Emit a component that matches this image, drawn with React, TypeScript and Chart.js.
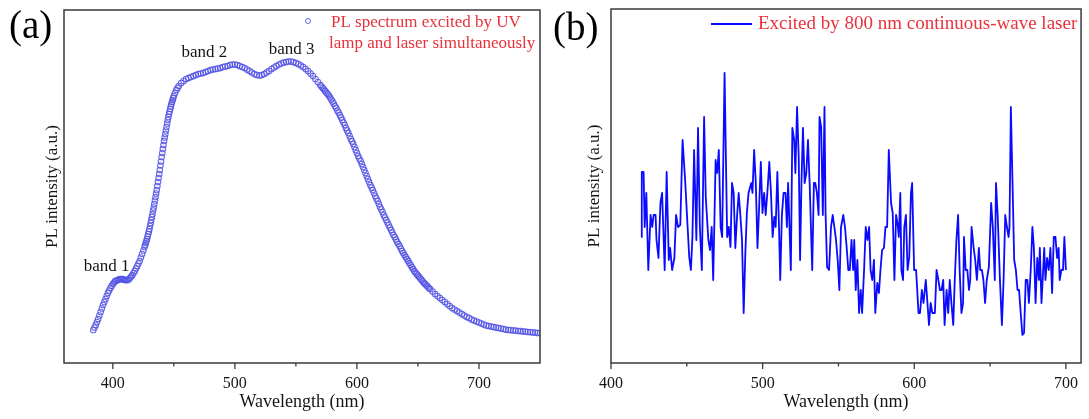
import React, { useEffect, useRef } from "react";
import { Chart, registerables } from "chart.js";

Chart.register(...registerables);

// ---------- Panel (a): PL spectrum, UV lamp + laser ----------
const wavelengthA = [
  384, 385, 386, 387, 388, 389, 390, 391, 392, 393, 394, 395, 396, 397, 398, 399, 400, 401, 402, 403, 404, 405,
  406, 407, 408, 409, 410, 411, 412, 413, 414, 415, 416, 417, 418, 419, 420, 421, 422, 423, 424, 425, 426,
  426.5, 427, 427.5, 428, 428.5, 429, 429.5, 430, 430.5, 431, 431.5, 432, 432.5, 433, 433.5, 434, 434.5, 435,
  435.5, 436, 436.5, 437, 437.5, 438, 438.5, 439, 439.5, 440, 440.5, 441, 441.5, 442, 442.5, 443, 443.5, 444,
  444.5, 445, 445.5, 446, 446.5, 447, 447.5, 448, 448.5, 449, 449.5, 450, 451, 452, 453, 454,
  456, 458, 460, 462, 464, 466, 468, 470, 472, 474, 476, 478, 480, 482, 484, 486, 488, 490, 492, 494, 496, 498,
  500, 502, 504, 506, 508, 510, 512, 514, 516, 518, 520, 522, 524, 526, 528, 530, 532, 534, 536, 538, 540, 542,
  544, 546, 548, 550, 552, 554, 556, 558, 560, 562, 564, 566, 568,
  570, 571, 572, 573, 574, 575, 576, 577, 578, 579, 580, 581, 582, 583, 584, 585, 586, 587, 588, 589, 590, 591,
  592, 593, 594, 595, 596, 597, 598, 599, 600, 601, 602, 603, 604, 605, 606, 607, 608, 609, 610, 611, 612, 613,
  614, 615, 616, 617, 618, 619, 620, 621, 622, 623, 624, 625, 626, 627, 628, 629, 630, 631, 632, 633, 634, 635,
  636, 637, 638, 639, 640, 641, 642, 643, 644, 645, 646, 647, 648, 649, 650, 651, 652, 653, 654, 655, 656, 657,
  658, 659, 660,
  662, 664, 666, 668, 670, 672, 674, 676, 678, 680, 682, 684, 686, 688, 690, 692, 694, 696, 698, 700, 702, 704,
  706, 708, 710, 712, 714, 716, 718, 720, 722, 724, 726, 728, 730, 732, 734, 736, 738, 740, 742, 744, 746, 748, 750,
];
const intensityA = [
  33, 35.5, 38, 41, 44, 47.5, 51, 54.5, 58, 61, 64, 67, 70, 72.5, 75, 77, 79, 80.5, 82, 82.5, 83, 83.5,
  84, 84, 84, 83.5, 83, 83, 83, 83.5, 85, 86.5, 88, 90, 92, 94.5, 97, 99.5, 102, 105.5, 109, 112.5, 116,
  118, 120, 122, 124, 126.5, 129, 131.5, 134, 137, 140, 143, 146, 149, 152.5, 155.5, 159, 162.5, 166,
  169.5, 173, 177, 181, 185, 189, 193, 197.5, 201.5, 206, 210, 214, 218, 222, 225.5, 229, 232.5, 236,
  239.5, 243, 246, 249, 251.5, 254, 256.5, 259, 261, 263, 265, 267, 270, 273, 275, 277,
  280, 282, 284, 285, 286, 287, 288, 289, 289.5, 290, 291, 292, 293, 293.5, 294, 294.5, 295, 296, 296.5, 297, 298, 298.5,
  298.5, 298, 297, 296, 295, 293.5, 292, 290.5, 289, 288, 287.5, 288, 289, 290.5, 292, 294, 295.5, 297, 298.5, 299.5, 300.5, 301,
  301.5, 301.5, 301, 300, 299, 297.5, 296, 294, 292, 289.5, 287, 284, 281,
  278, 276.5, 275, 273.5, 272, 270.5, 269, 267.5, 265.5, 263.5, 261.5, 259.5, 257, 255, 252.5, 250.5, 248, 245.5, 243, 240.5, 238, 235,
  232.5, 230, 227, 224, 221.5, 219, 216, 213, 210, 207, 204.5, 202, 199, 196, 193, 190, 187, 184, 181, 178, 175.5, 173,
  170, 167, 164.5, 162, 159, 156, 153.5, 151, 148, 145.5, 143, 140.5, 138, 135.5, 133, 130.5, 128, 126, 123.5, 121, 119, 117,
  114.5, 112, 110, 108, 106, 104, 102, 100, 98, 96, 94, 92, 90.5, 89, 87.5, 86, 84.5, 83, 81.5, 80, 79, 77.5,
  76.5, 75, 74,
  71.5, 69, 67, 65, 63, 61, 59, 57, 55, 53.5, 52, 50.5, 49, 47.5, 46, 45, 43.5, 42.5, 41.5, 40.5, 39.5, 38.5,
  37.5, 37, 36.5, 36, 35.5, 35, 34.5, 34, 33.5, 33, 33, 32.5, 32.5, 32, 32, 31.5, 31.5, 31, 31, 30.5, 30.5, 30, 30,
];
const majorTicksA = [400, 500, 600, 700];
const minorTicksA = [450, 550, 650];
const legendLinesA = ["PL spectrum excited by UV", "lamp and laser simultaneously"];
const bandLabels = ["band 1", "band 2", "band 3"];
const bandAnchorX = [395, 475, 546.5];
const bandAnchorY = [96, 310, 313];

// ---------- Panel (b): 800 nm CW laser ----------
const wavelengthB = [
  420, 420.3, 421.5, 422.2, 423.3, 424.6, 425.5, 426.1, 427.2, 428.1, 429.4, 430, 431.3, 432.6, 433.7, 435.4,
  436.7, 438.1, 439, 440.3, 441.8, 442.9, 444.2, 445.7, 447.2, 449, 450.1, 451.6, 452.7, 453.7, 454.8, 456.3,
  457.4, 458.6, 459.9, 461.4, 462.5, 464.2, 465.3, 466.4, 467.4, 469, 470, 471.1, 472.3, 473.3, 474.9, 476.6,
  477.7, 478.8, 479.8, 480.9, 482, 483.1, 484.2, 485.3, 486.4, 487.5, 488.6, 489.6, 490.7, 492.5, 493.3, 494.4,
  495.5, 496.6, 497.7, 498.8, 499.9, 501, 502, 503.1, 504.4, 505.5, 506.6, 507.7, 508.6, 509.7, 510.8, 511.6,
  512.7, 513.8, 515.1, 516, 516.8, 518.6, 519.6, 520.8, 521.6, 522.7, 523.8, 524.7, 525.6, 526.6, 527.7, 528.8,
  529.9, 531, 532.1, 532.7, 533.8, 534.7, 535.8, 536.9, 537.5, 538.6, 539.7, 540.8, 541.5, 542.5, 543.8, 545.1,
  546.2, 547.3, 548.4, 549.5, 550.6, 551.7, 553.2, 554.3, 555.4, 556.5, 557.5, 558.6, 559.7, 560.4, 561.4, 562.5,
  563.6, 564.7, 565.6, 566.9, 568, 569.1, 570.2, 571.2, 572.3, 573.4, 574.3, 575.6, 576.7, 577.7, 578.8, 580,
  581, 582.1, 583.2, 584.7, 585.8, 586.9, 588, 589.1, 589.8, 590.8, 591.5, 592.6, 593.4, 594.5, 595.6, 596.7,
  597.8, 598.6, 599.9, 601.2, 602.8, 603.8, 605, 606.1, 607.6, 608.7, 609.7, 610.8, 611.9, 613.6, 614.7, 615.9,
  616.9, 618, 619.1, 620, 621.3, 622.4, 623.4, 624.5, 625.7, 626.7, 627.8, 628.9, 630, 631.1, 632.2, 632.8,
  633.9, 635, 636.1, 636.9, 637.8, 639.1, 640.2, 641.3, 642.6, 643.5, 644.6, 645.6, 646.7, 647.8, 649.2, 650.7,
  651.8, 653.1, 653.9, 655, 656.5, 657.8, 658.9, 660, 661.1, 662.2, 662.8, 663.7, 664.8, 665.9, 667, 668.1,
  669.1, 670.2, 671.3, 672.4, 673.5, 674.6, 675.6, 676.8, 677.9, 678.9, 680, 681.1, 682.2, 682.8, 683.9, 685,
  685.7, 686.5, 687.6, 688.7, 689.8, 690.9, 692, 693.1, 694.2, 695.2, 695.9, 697, 698.1, 699, 700,
];
const intensityB = [
  126, 191, 191, 136, 170, 93, 126, 148, 136, 148, 148, 123, 105, 160, 170, 93,
  191, 103, 115, 93, 105, 148, 136, 138, 223, 180, 148, 106, 93, 126, 213, 123,
  235, 136, 93, 246, 166, 123, 113, 136, 83, 203, 190, 213, 136, 126, 290, 126,
  136, 116, 180, 170, 115, 146, 170, 148, 123, 50, 110, 150, 170, 180, 170, 213,
  180, 115, 156, 201, 150, 170, 148, 170, 201, 170, 126, 146, 136, 191, 136, 83,
  148, 170, 170, 136, 180, 93, 235, 223, 190, 256, 206, 103, 180, 235, 180, 190,
  223, 180, 123, 93, 180, 180, 170, 148, 246, 236, 148, 256, 150, 96, 93, 136,
  148, 136, 123, 103, 73, 136, 148, 136, 116, 93, 93, 123, 93, 123, 73, 103,
  50, 73, 50, 93, 136, 123, 136, 93, 83, 103, 50, 80, 70, 93, 113, 115,
  136, 136, 213, 160, 150, 83, 148, 138, 126, 170, 93, 83, 136, 148, 93, 106,
  170, 180, 93, 93, 50, 50, 73, 60, 83, 60, 38, 60, 50, 50, 93, 83,
  73, 73, 83, 38, 73, 50, 83, 60, 38, 83, 123, 148, 90, 50, 60, 126,
  93, 93, 73, 83, 136, 116, 103, 83, 115, 93, 93, 83, 60, 83, 96, 160,
  136, 83, 180, 148, 83, 38, 83, 148, 136, 126, 136, 256, 180, 103, 93, 73,
  73, 50, 28, 30, 83, 83, 60, 93, 136, 115, 60, 105, 83, 115, 60, 93,
  115, 83, 105, 93, 115, 70, 126, 126, 105, 115, 83, 93, 93, 126, 93,
];
const majorTicksB = [400, 500, 600, 700];
const minorTicksB = [450, 550, 650];
const legendTextB = "Excited by 800 nm continuous-wave laser";

const SERIF = '"Liberation Serif", "Times New Roman", Times, serif';
const font = (size: number) => `${size}px ${SERIF}`;
const RED = "#e8323c";
const FRAME = "#3a3a3a";
const TEXT = "#151515";
const MARKER = "rgba(80,80,228,0.85)";
const LINE_B = "#0a0aff";

function frameAndTicks(chart: any, major: number[], minor: number[]) {
  const { ctx, chartArea: ca, scales } = chart;
  const xs = scales.x;
  ctx.save();
  ctx.strokeStyle = FRAME;
  ctx.lineWidth = 1.5;
  ctx.strokeRect(ca.left, ca.top, ca.right - ca.left, ca.bottom - ca.top);
  ctx.lineWidth = 1.3;
  ctx.beginPath();
  for (const v of major) {
    const px = xs.getPixelForValue(v);
    ctx.moveTo(px, ca.bottom);
    ctx.lineTo(px, ca.bottom + 6);
  }
  for (const v of minor) {
    const px = xs.getPixelForValue(v);
    ctx.moveTo(px, ca.bottom);
    ctx.lineTo(px, ca.bottom + 3.5);
  }
  ctx.stroke();
  ctx.restore();
}

const decorA = {
  id: "decorA",
  afterDraw(chart: any) {
    frameAndTicks(chart, majorTicksA, minorTicksA);
    const { ctx, scales } = chart;
    ctx.save();
    ctx.fillStyle = "#000";
    ctx.font = font(39);
    ctx.textBaseline = "middle";
    ctx.textAlign = "left";
    ctx.fillText("(a)", 9, 28);
    ctx.strokeStyle = MARKER;
    ctx.lineWidth = 1;
    ctx.beginPath();
    ctx.arc(308, 21, 2.5, 0, Math.PI * 2);
    ctx.stroke();
    ctx.fillStyle = RED;
    ctx.font = font(17);
    ctx.fillText(legendLinesA[0], 331, 23);
    ctx.fillText(legendLinesA[1], 329, 44);
    ctx.fillStyle = TEXT;
    ctx.textAlign = "center";
    ctx.font = font(17);
    bandLabels.forEach((t, i) => {
      ctx.fillText(t, scales.x.getPixelForValue(bandAnchorX[i]), scales.y.getPixelForValue(bandAnchorY[i]));
    });
    ctx.restore();
  },
};

const decorB = {
  id: "decorB",
  afterDraw(chart: any) {
    frameAndTicks(chart, majorTicksB, minorTicksB);
    const { ctx } = chart;
    ctx.save();
    ctx.fillStyle = "#000";
    ctx.font = font(39);
    ctx.textBaseline = "middle";
    ctx.textAlign = "left";
    ctx.fillText("(b)", 8, 30);
    ctx.strokeStyle = LINE_B;
    ctx.lineWidth = 2;
    ctx.beginPath();
    ctx.moveTo(166, 24);
    ctx.lineTo(207, 24);
    ctx.stroke();
    ctx.fillStyle = RED;
    ctx.font = font(19);
    ctx.fillText(legendTextB, 213, 24);
    ctx.restore();
  },
};

function xScale(min: number, max: number, ticks: number[], height: number) {
  return {
    type: "linear",
    min,
    max,
    afterBuildTicks: (s: any) => {
      s.ticks = ticks.map((v) => ({ value: v }));
    },
    afterFit: (s: any) => {
      s.height = height;
    },
    ticks: { font: { family: SERIF, size: 16 }, color: TEXT, padding: 11, maxRotation: 0, autoSkip: false },
    grid: { display: false, drawTicks: false },
    border: { display: false },
    title: {
      display: true,
      text: "Wavelength (nm)",
      font: { family: SERIF, size: 18 },
      color: TEXT,
      padding: { top: 0, bottom: 6 },
    },
  };
}

function yScale(max: number, width: number, titlePad: number) {
  return {
    type: "linear",
    min: 0,
    max,
    afterFit: (s: any) => {
      s.width = width;
    },
    ticks: { display: false },
    grid: { display: false, drawTicks: false },
    border: { display: false },
    title: {
      display: true,
      text: "PL intensity (a.u.)",
      font: { family: SERIF, size: 17 },
      color: TEXT,
      padding: { top: titlePad, bottom: 0 },
    },
  };
}

export default function App() {
  const refA = useRef<HTMLCanvasElement | null>(null);
  const refB = useRef<HTMLCanvasElement | null>(null);

  useEffect(() => {
    const chartA = new Chart(refA.current as HTMLCanvasElement, {
      type: "scatter",
      data: {
        datasets: [
          {
            data: wavelengthA.map((x, i) => ({ x, y: intensityA[i] })),
            showLine: false,
            pointStyle: "circle",
            pointRadius: 2.8,
            pointHoverRadius: 2.8,
            pointBorderWidth: 1.1,
            borderColor: MARKER,
            pointBorderColor: MARKER,
            backgroundColor: "rgba(0,0,0,0)",
            pointBackgroundColor: "rgba(0,0,0,0)",
          },
        ],
      },
      options: {
        animation: false,
        responsive: false,
        events: [],
        layout: { padding: { top: 10, right: 5, left: 0, bottom: 0 } },
        plugins: { legend: { display: false }, tooltip: { enabled: false } },
        scales: {
          x: xScale(360, 750, majorTicksA, 56) as any,
          y: yScale(353, 64, 42) as any,
        },
      },
      plugins: [decorA],
    });

    const chartB = new Chart(refB.current as HTMLCanvasElement, {
      type: "line",
      data: {
        datasets: [
          {
            data: wavelengthB.map((x, i) => ({ x, y: intensityB[i] })),
            borderColor: LINE_B,
            borderWidth: 1.8,
            borderJoinStyle: "round",
            pointRadius: 0,
            tension: 0,
            fill: false,
          },
        ],
      },
      options: {
        animation: false,
        responsive: false,
        events: [],
        layout: { padding: { top: 9, right: 3, left: 0, bottom: 0 } },
        plugins: { legend: { display: false }, tooltip: { enabled: false } },
        scales: {
          x: xScale(400, 710, majorTicksB, 56) as any,
          y: yScale(354, 66, 39) as any,
        },
      },
      plugins: [decorB],
    });

    return () => {
      chartA.destroy();
      chartB.destroy();
    };
  }, []);

  return (
    <div style={{ position: "fixed", left: 0, top: 0, width: 1089, height: 419, background: "#fff" }}>
      <canvas ref={refA} width={545} height={419} style={{ position: "absolute", left: 0, top: 0 }} />
      <canvas ref={refB} width={544} height={419} style={{ position: "absolute", left: 545, top: 0 }} />
    </div>
  );
}
